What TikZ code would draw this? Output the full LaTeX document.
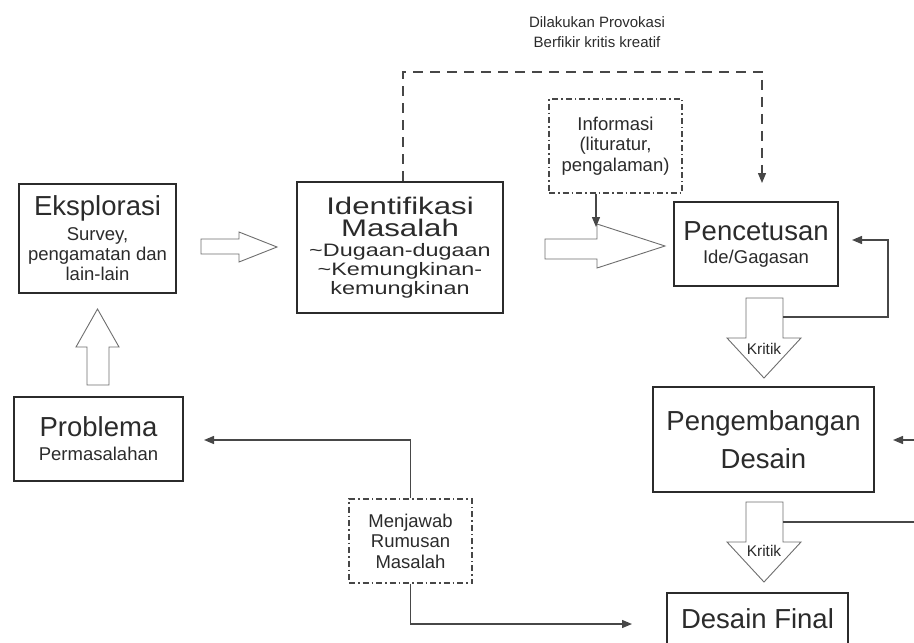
\documentclass[tikz,border=0pt]{standalone}
\usepackage{fontspec}
\setmainfont{Liberation Sans}
\newfontfamily\widesans[FakeStretch=1.3]{Liberation Sans}
\usepackage{tikz}
\usetikzlibrary{arrows.meta,positioning,calc}
\definecolor{ink}{HTML}{2B2B2B}
\definecolor{wire}{HTML}{474747}
\definecolor{shell}{HTML}{6E6E6E}

\begin{document}
\begin{tikzpicture}[x=1pt,y=-1pt,
  bx/.style={draw=ink,line width=2.3pt,align=center,inner sep=0pt,text=ink,font=\fontsize{18.5}{20}\selectfont},
  dd/.style={draw=wire,line width=1.1pt,dash pattern=on 6pt off 3pt on 1.5pt off 3pt,align=center,inner sep=0pt,text=ink,font=\fontsize{18.5}{20.5}\selectfont},
  hol/.style={draw=shell,line width=0.9pt,fill=white,line join=miter},
  ar/.style={-{Triangle[length=10pt,width=8pt]},draw=wire,line width=1.3pt},
  da/.style={ar,dash pattern=on 10pt off 7pt},
  ln/.style={draw=wire,line width=1.3pt},
  lbl/.style={align=center,inner sep=0pt,text=ink,font=\fontsize{15}{20}\selectfont}]
  \useasboundingbox (0,0) rectangle (914,643);
  % kotak utama
  \node[bx,minimum width=157,minimum height=109] (eks) at (97.5,238.5)
    {{\fontsize{27.5}{30}\selectfont Eksplorasi}\\[5pt]Survey,\\pengamatan dan\\lain-lain};
  \node[bx,minimum width=206,minimum height=131,font=\widesans\fontsize{18}{19}\selectfont] (idm) at (400,247.5)
    {{\fontsize{24}{23}\selectfont Identifikasi}\\[3pt]{\fontsize{24}{23}\selectfont Masalah}\\[1pt]\textasciitilde Dugaan-dugaan\\\textasciitilde Kemungkinan-\\kemungkinan};
  \node[bx,minimum width=164,minimum height=84] (pen) at (756,244)
    {{\fontsize{27.5}{30}\selectfont Pencetusan}\\[3pt]Ide/Gagasan};
  \node[bx,minimum width=221,minimum height=105,font=\fontsize{27.5}{38}\selectfont] (peng) at (763.5,439.5)
    {Pengembangan\\Desain};
  \node[bx,anchor=north,minimum width=181,text height=35pt,text depth=70pt,font=\fontsize{27.5}{30}\selectfont] (fin) at (757.5,592)
    {Desain Final};
  \node[bx,minimum width=169,minimum height=84] (prob) at (98.5,439)
    {{\fontsize{27.5}{30}\selectfont Problema}\\[4pt]Permasalahan};
  % kotak keterangan
  \node[dd,minimum width=133,minimum height=94] (info) at (615.5,146)
    {Informasi\\(lituratur,\\pengalaman)};
  \node[dd,minimum width=123,minimum height=84] (jaw) at (410.5,541)
    {Menjawab\\Rumusan\\Masalah};
  \node[lbl] (prov) at (597,32) {Dilakukan Provokasi\\Berfikir kritis kreatif};
  % panah blok
  \draw[hol] (201,239) -- (239,239) -- (239,232) -- (277,247) -- (239,262) -- (239,254) -- (201,254) -- cycle;
  \draw[hol] (545,239) -- (597,239) -- (597,224) -- (665,246) -- (597,268) -- (597,259) -- (545,259) -- cycle;
  \draw[hol] (87,385) -- (87,347) -- (76,347) -- (97.5,309) -- (119,347) -- (109,347) -- (109,385) -- cycle;
  \draw[hol] (746,298) -- (783,298) -- (783,338) -- (801,338) -- (764,378) -- (727,338) -- (746,338) -- cycle;
  \draw[hol] (746,502) -- (783,502) -- (783,542) -- (801,542) -- (764,582) -- (727,542) -- (746,542) -- cycle;
  \node[lbl,font=\fontsize{15.5}{18}\selectfont] (krt1) at (764,349) {Kritik};
  \node[lbl,font=\fontsize{15.5}{18}\selectfont] (krt2) at (764,551) {Kritik};
  % ujung penghubung
  \coordinate (dtip) at (762,183);
  \coordinate (itip) at (596,227);
  \coordinate (f1s) at (783,317);
  \coordinate (f1t) at (852,240);
  \coordinate (f2s) at (783,522);
  \coordinate (f2e) at (914,522);
  \coordinate (f3s) at (914,440);
  \coordinate (f3t) at (893,440);
  \coordinate (ptip) at (204,440);
  \coordinate (ftip) at (632,624);
  % penghubung
  \draw[da] ([xshift=3pt]idm.north) -- ++(0,-109) -| (dtip);
  \draw[ar] (itip |- info.south) -- (itip);
  \draw[ar] (f1s) -- ++(105,0) |- (f1t);
  \draw[ln] (f2s) -- (f2e);
  \draw[ar] (f3s) -- (f3t);
  \draw[ar] (jaw.north) |- (ptip);
  \draw[ar] (jaw.south) |- (ftip);
\end{tikzpicture}
\end{document}
